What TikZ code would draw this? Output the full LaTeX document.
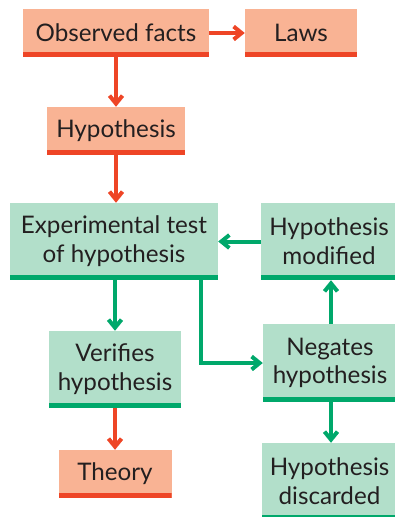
\documentclass[tikz,border=0pt]{standalone}
\usepackage{fontspec}
\setmainfont{Lato}
\usetikzlibrary{arrows.meta}
\definecolor{salmon}{HTML}{F9B394}
\definecolor{redline}{HTML}{EE4526}
\definecolor{mint}{HTML}{B2DFCA}
\definecolor{greenline}{HTML}{00A86B}
\definecolor{ink}{HTML}{231F20}
\tikzset{
redbox/.style={rectangle,fill=salmon,text=ink,inner sep=0pt,align=center,
font=\fontsize{24.2}{28.7}\selectfont,
path picture={\fill[redline] (path picture bounding box.south west) rectangle ([yshift=5pt]path picture bounding box.south east);}},
greenbox/.style={rectangle,fill=mint,text=ink,inner sep=0pt,align=center,
font=\fontsize{24.2}{28.7}\selectfont,
path picture={\fill[greenline] (path picture bounding box.south west) rectangle ([yshift=5pt]path picture bounding box.south east);}},
redarrow/.style={draw=redline,line width=4pt,-{Straight Barb[length=8pt,width=13pt]}},
greenarrow/.style={draw=greenline,line width=4pt,-{Straight Barb[length=8pt,width=13pt]}}
}
\begin{document}
\begin{tikzpicture}[x=1pt,y=-1pt]
\useasboundingbox (0,0) rectangle (395,517);

\node[redbox,minimum width=186pt,minimum height=48pt](obs) at (116,33){Observed facts};

\node[redbox,minimum width=112pt,minimum height=48pt](laws) at (301,33){Laws};

\node[redbox,minimum width=138pt,minimum height=48pt](hyp) at (116,131){Hypothesis};

\node[greenbox,minimum width=208pt,minimum height=77pt](test) at (114,241.5){Experimental test\\of hypothesis};

\node[greenbox,minimum width=136pt,minimum height=77pt](mod) at (329,241.5){Hypothesis\\modified};

\node[greenbox,minimum width=132pt,minimum height=77pt](ver) at (115,369.5){Verifies\\hypothesis};

\node[greenbox,minimum width=134pt,minimum height=78pt](neg) at (330,363){Negates\\hypothesis};

\node[redbox,minimum width=113pt,minimum height=48pt](theory) at (115,474){Theory};

\node[greenbox,minimum width=135pt,minimum height=77pt](disc) at (329.5,481.5){Hypothesis\\discarded};

%red flow
\draw [redarrow] (obs.east) to (laws.west);
\draw [redarrow] (obs.south) to (obs.south |- hyp.north);
\draw [redarrow] (hyp.south) to (hyp.south |- test.north);
\draw [redarrow] (ver.south) to (ver.south |- theory.north);

%green flow
\draw [greenarrow] (mod.west) to (test.east);
\draw [greenarrow] (test.south -| ver.north) to (ver.north);
\draw [greenarrow] ([xshift=-17pt]test.south east) |- (neg.west);
\draw [greenarrow] ([xshift=1pt]neg.north) to ([xshift=1pt]neg.north |- mod.south);
\draw [greenarrow] ([xshift=1pt]neg.south) to ([xshift=1pt]neg.south |- disc.north);
\end{tikzpicture}
\end{document}
